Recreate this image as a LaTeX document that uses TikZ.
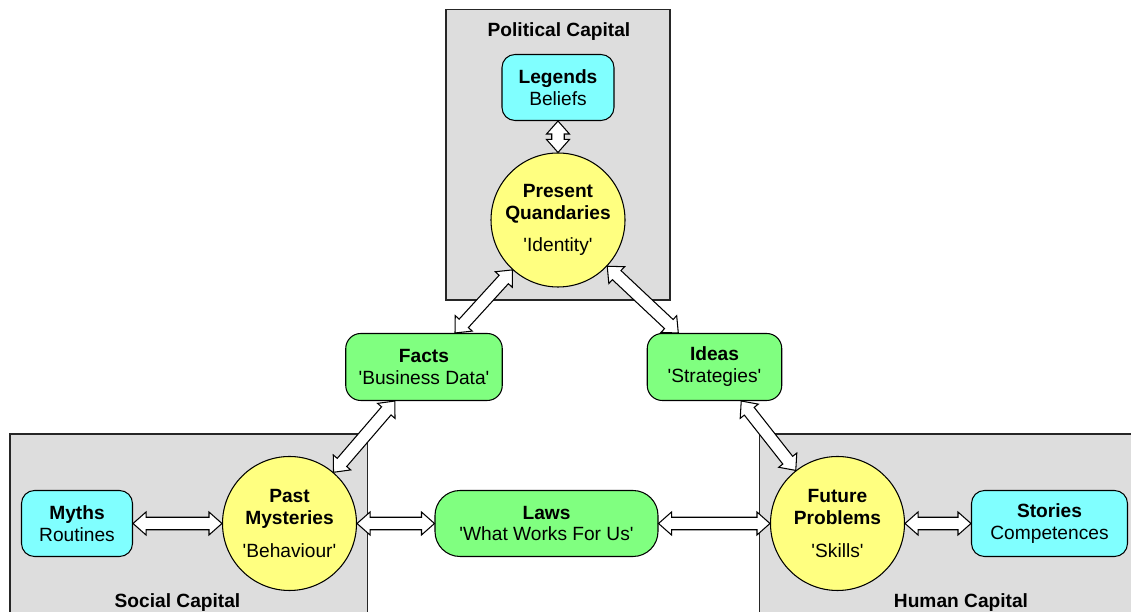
\documentclass[tikz,border=0pt]{standalone}
\usepackage{fontspec}
\setmainfont{Liberation Sans}
\usetikzlibrary{calc}

\definecolor{capgrey}{HTML}{DDDDDD}
\definecolor{cyanbox}{HTML}{80FFFF}
\definecolor{greenbox}{HTML}{80FF80}
\definecolor{yellowball}{HTML}{FFFF80}

\newcommand{\sq}{\textquotesingle}

\tikzset{
  capital/.style={draw=black!85, fill=capgrey, line width=0.6pt},
  captitle/.style={anchor=base},
  lore/.style={draw, fill=cyanbox, rounded corners=0.26cm, line width=0.6pt, minimum height=1.32cm, align=center},
  know/.style={draw, fill=greenbox, rounded corners=0.3cm, line width=0.6pt, minimum height=1.34cm, align=center},
  era/.style={draw, fill=yellowball, circle, line width=0.6pt, minimum size=2.68cm, inner sep=0pt, align=center},
  link/.style={draw, fill=white, line width=0.6pt}
}

% hollow two-headed arrow between two named nodes
\newcommand{\twoway}[2]{%
  \path (#1) -- (#2) coordinate[pos=0] (tw-a) coordinate[pos=1] (tw-b);
  \coordinate (tw-ha) at ($(tw-a)!0.26cm!(tw-b)$);
  \coordinate (tw-hb) at ($(tw-b)!0.26cm!(tw-a)$);
  \draw [link] (tw-a) -- ($(tw-ha)!0.23cm!90:(tw-b)$) -- ($(tw-ha)!0.125cm!90:(tw-b)$)
    -- ($(tw-hb)!0.125cm!-90:(tw-a)$) -- ($(tw-hb)!0.23cm!-90:(tw-a)$) -- (tw-b)
    -- ($(tw-hb)!0.23cm!90:(tw-a)$) -- ($(tw-hb)!0.125cm!90:(tw-a)$)
    -- ($(tw-ha)!0.125cm!-90:(tw-b)$) -- ($(tw-ha)!0.23cm!-90:(tw-b)$) -- cycle;
}

\begin{document}
\begin{tikzpicture}[font=\fontsize{10.9pt}{12.5pt}\selectfont]

\useasboundingbox (0,0) rectangle (22.62,12.24);

\draw [capital] (8.92,6.24) rectangle (13.40,12.05);
\node [captitle] (polcap) at (11.18,11.50) {\textbf{Political Capital}};

\draw [capital] (0.20,-0.50) rectangle (7.35,3.56);
\node [captitle] (soccap) at (3.55,0.08) {\textbf{Social Capital}};

\draw [capital] (15.19,-0.50) rectangle (23.00,3.56);
\node [captitle] (humcap) at (19.22,0.08) {\textbf{Human Capital}};

\node [lore, minimum width=2.24cm] (legends) at (11.16,10.49) {\textbf{Legends}\\Beliefs};
\node [era] (present) at (11.16,7.84) {\textbf{Present}\\\textbf{Quandaries}\\[6pt]\sq Identity\sq};

\node [know, minimum width=3.13cm] (facts) at (8.48,4.90) {\textbf{Facts}\\\sq Business Data\sq};
\node [know, minimum width=2.69cm] (ideas) at (14.29,4.90) {\textbf{Ideas}\\\sq Strategies\sq};

\node [lore, minimum width=2.22cm] (myths) at (1.54,1.77) {\textbf{Myths}\\Routines};
\node [era] (past) at (5.79,1.77) {\textbf{Past}\\\textbf{Mysteries}\\[6pt]\sq Behaviour\sq};
\node [know, minimum width=4.46cm, minimum height=1.32cm, rounded corners=0.5cm] (laws) at (10.93,1.77) {\textbf{Laws}\\\sq What Works For Us\sq};
\node [era] (future) at (16.75,1.77) {\textbf{Future}\\\textbf{Problems}\\[6pt]\sq Skills\sq};
\node [lore, minimum width=3.12cm] (stories) at (20.99,1.77) {\textbf{Stories}\\Competences};

\twoway{legends}{present}
\twoway{present}{facts}
\twoway{present}{ideas}
\twoway{facts}{past}
\twoway{ideas}{future}
\twoway{myths}{past}
\twoway{past}{laws}
\twoway{laws}{future}
\twoway{future}{stories}

\end{tikzpicture}
\end{document}
